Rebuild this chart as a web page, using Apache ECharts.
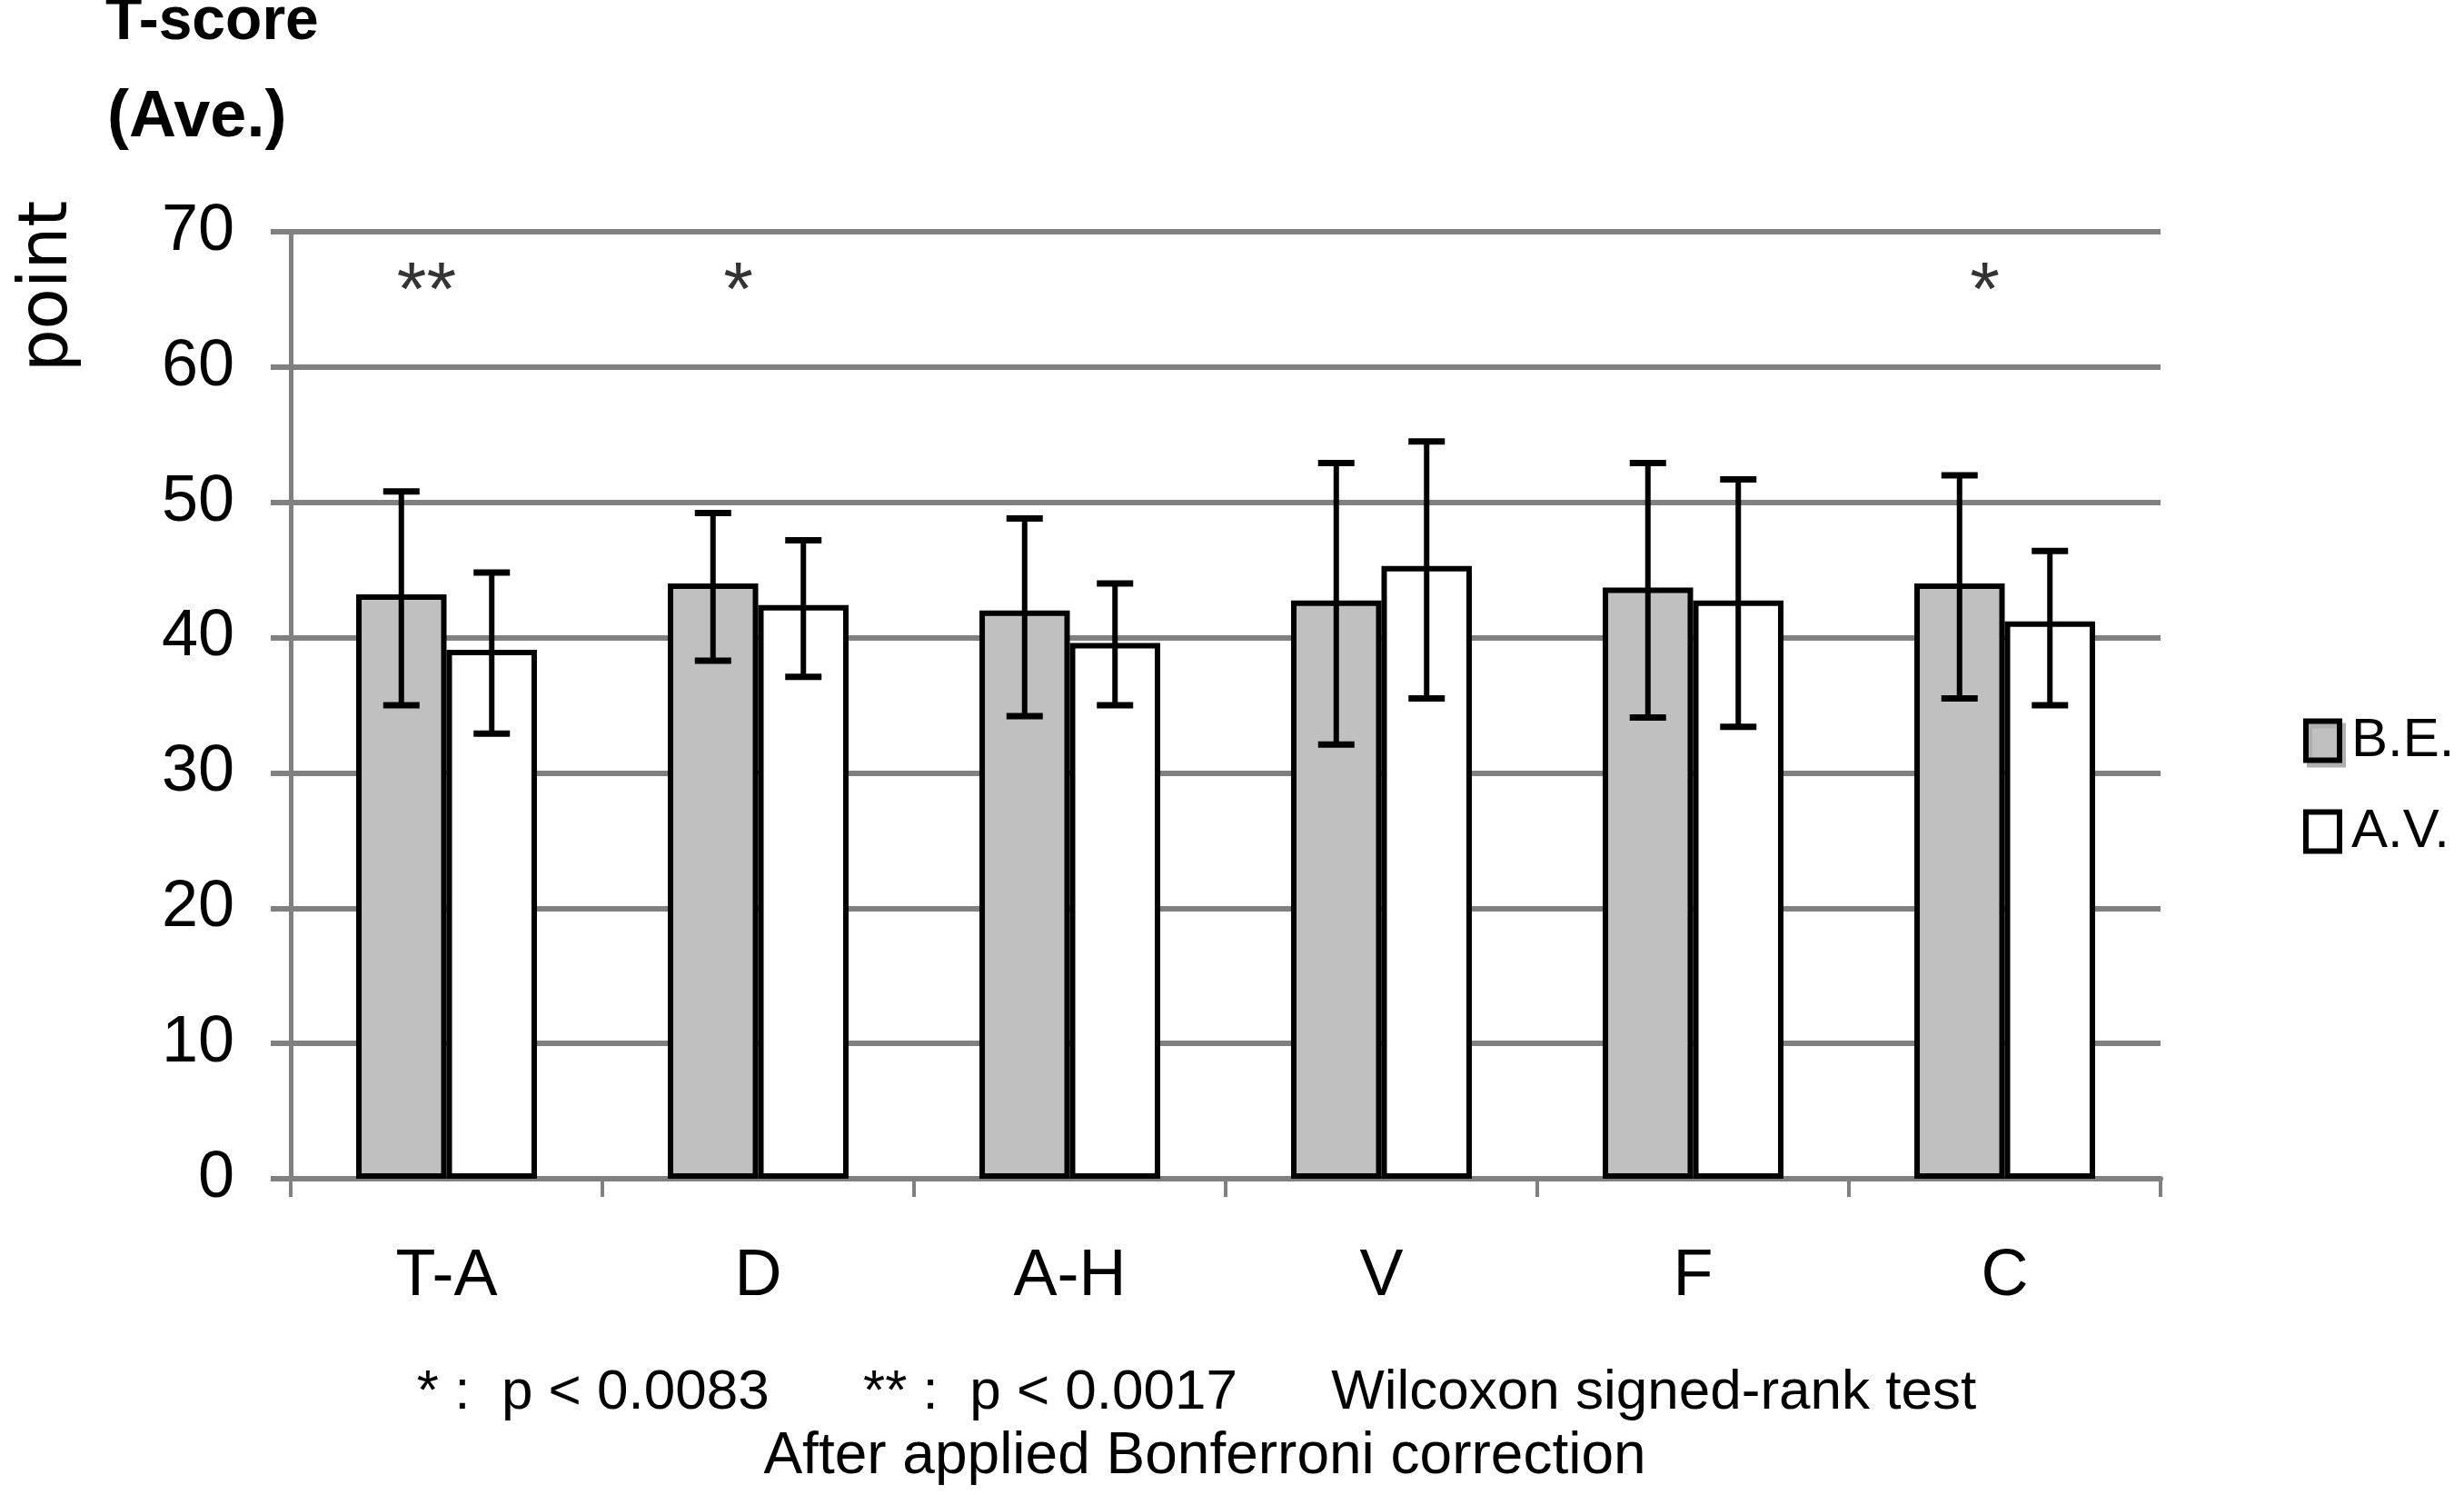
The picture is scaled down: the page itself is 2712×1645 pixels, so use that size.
<!DOCTYPE html>
<html>
<head>
<meta charset="utf-8">
<title>T-score</title>
<script src="https://cdn.jsdelivr.net/npm/echarts@6/dist/echarts.min.js"></script>
<style>
  html, body { margin: 0; padding: 0; background: #fff; }
  #chart { width: 2712px; height: 1645px; }
</style>
</head>
<body>
<div id="chart"></div>
<script>
// categories and values
const categories = ['T-A', 'D', 'A-H', 'V', 'F', 'C'];
const seriesNames = ['B.E.', 'A.V.'];
const beMean = [43.2, 44.0, 42.0, 42.75, 43.7, 44.0];
const beLow = [35.0, 38.3, 34.2, 32.1, 34.1, 35.5];
const beHigh = [50.8, 49.2, 48.8, 52.9, 52.9, 52.0];
const avMean = [39.1, 42.4, 39.6, 45.3, 42.75, 41.2];
const avLow = [32.9, 37.1, 35.0, 35.5, 33.4, 35.0];
const avHigh = [44.8, 47.2, 44.0, 54.5, 51.7, 46.4];
const sigMarks = ['**', '*', '', '', '', '*'];
const sigLevel = 67;
const yMin = 0, yMax = 70, yStep = 10;
const footLines = [
  '* :  p < 0.0083      ** :  p < 0.0017      Wilcoxon signed-rank test',
  'After applied Bonferroni correction'
];

const GRAY = '#808080';
const SANS = '"Liberation Sans", Arial, sans-serif';
const BAR_FRAC = 0.29; // bar width as share of a category band

const chart = echarts.init(document.getElementById('chart'));

// error bar drawer: side -1 = left bar, +1 = right bar
function errorRender(side) {
  return function (params, api) {
    const idx = api.value(0);
    const band = api.size([1, 0])[0];
    const x = api.coord([idx, 0])[0] + side * band * BAR_FRAC / 2;
    const yLo = api.coord([idx, api.value(1)])[1];
    const yHi = api.coord([idx, api.value(2)])[1];
    const cap = 20;
    const capStyle = { stroke: '#000', lineWidth: 7 };
    return {
      type: 'group',
      children: [
        { type: 'line', shape: { x1: x, y1: yLo, x2: x, y2: yHi }, style: { stroke: '#000', lineWidth: 6 } },
        { type: 'line', shape: { x1: x - cap, y1: yHi, x2: x + cap, y2: yHi }, style: capStyle },
        { type: 'line', shape: { x1: x - cap, y1: yLo, x2: x + cap, y2: yLo }, style: capStyle }
      ]
    };
  };
}

const option = {
  backgroundColor: '#fff',
  animation: false,
  grid: { left: 320, right: 334, top: 255, bottom: 348 },
  legend: {
    orient: 'vertical',
    left: 2530,
    top: 780,
    itemWidth: 37,
    itemHeight: 43,
    itemGap: 40,
    icon: 'rect',
    textStyle: {
      fontFamily: SANS,
      fontSize: 60,
      color: '#000',
      padding: [0, 0, 0, 8]
    },
    data: [
      {
        name: seriesNames[0],
        itemStyle: { color: '#c0c0c0', borderColor: '#000', borderWidth: 6, shadowColor: '#b0b0b0', shadowOffsetX: 4, shadowOffsetY: 5, shadowBlur: 0 }
      },
      {
        name: seriesNames[1],
        itemStyle: { color: '#fff', borderColor: '#000', borderWidth: 6 }
      }
    ]
  },
  xAxis: {
    type: 'category',
    data: categories,
    boundaryGap: true,
    axisLine: { lineStyle: { color: GRAY, width: 6 } },
    axisTick: { show: true, interval: 0, length: 20, lineStyle: { color: GRAY, width: 4 } },
    axisLabel: {
      interval: 0,
      margin: 72,
      fontFamily: SANS,
      fontSize: 72,
      color: '#000'
    },
    splitLine: { show: false }
  },
  yAxis: {
    type: 'value',
    min: yMin,
    max: yMax,
    interval: yStep,
    axisLine: { show: true, lineStyle: { color: GRAY, width: 5 } },
    axisTick: { show: true, length: 22, lineStyle: { color: GRAY, width: 6 } },
    splitLine: { lineStyle: { color: GRAY, width: 6 } },
    axisLabel: {
      margin: 62,
      fontFamily: SANS,
      fontSize: 72,
      color: '#000'
    }
  },
  graphic: [
    {
      type: 'text', left: 116, top: -8,
      style: { text: 'T-score', fontFamily: SANS, fontWeight: 'bold', fontSize: 66, fill: '#000' }
    },
    {
      type: 'text', left: 118, top: 94,
      style: { text: '(Ave.)', fontFamily: SANS, fontWeight: 'bold', fontSize: 72, fill: '#000' }
    },
    {
      type: 'text', x: 54, y: 315, rotation: Math.PI / 2,
      style: { text: 'point', fontFamily: '"DejaVu Sans", sans-serif', fontSize: 74, fill: '#000', align: 'center', verticalAlign: 'middle' }
    },
    {
      type: 'text', x: 1317, y: 1533,
      style: { text: footLines[0], fontFamily: SANS, fontSize: 62, fill: '#000', align: 'center', verticalAlign: 'middle' }
    },
    {
      type: 'text', x: 1326, y: 1603,
      style: { text: footLines[1], fontFamily: SANS, fontSize: 64, fill: '#000', align: 'center', verticalAlign: 'middle' }
    }
  ],
  series: [
    {
      name: seriesNames[0],
      type: 'bar',
      data: beMean,
      barGap: '0%',
      barCategoryGap: '42%',
      itemStyle: { color: '#c0c0c0', borderColor: '#000', borderWidth: 6 },
      z: 2
    },
    {
      name: seriesNames[1],
      type: 'bar',
      data: avMean,
      barGap: '0%',
      barCategoryGap: '42%',
      itemStyle: { color: '#fff', borderColor: '#000', borderWidth: 6 },
      z: 2
    },
    {
      type: 'custom',
      renderItem: errorRender(-1),
      data: categories.map((c, i) => [i, beLow[i], beHigh[i]]),
      encode: { x: 0, y: [1, 2] },
      z: 5
    },
    {
      type: 'custom',
      renderItem: errorRender(1),
      data: categories.map((c, i) => [i, avLow[i], avHigh[i]]),
      encode: { x: 0, y: [1, 2] },
      z: 5
    },
    {
      type: 'scatter',
      symbolSize: 0,
      data: categories.map((c, i) => [i, sigLevel, sigMarks[i]]),
      label: {
        show: true,
        position: 'inside',
        offset: [-22, 24],
        formatter: p => p.value[2],
        fontFamily: SANS,
        fontSize: 84,
        color: '#000'
      },
      z: 6
    }
  ]
};

chart.setOption(option);
window.addEventListener('resize', () => chart.resize());
</script>
</body>
</html>
